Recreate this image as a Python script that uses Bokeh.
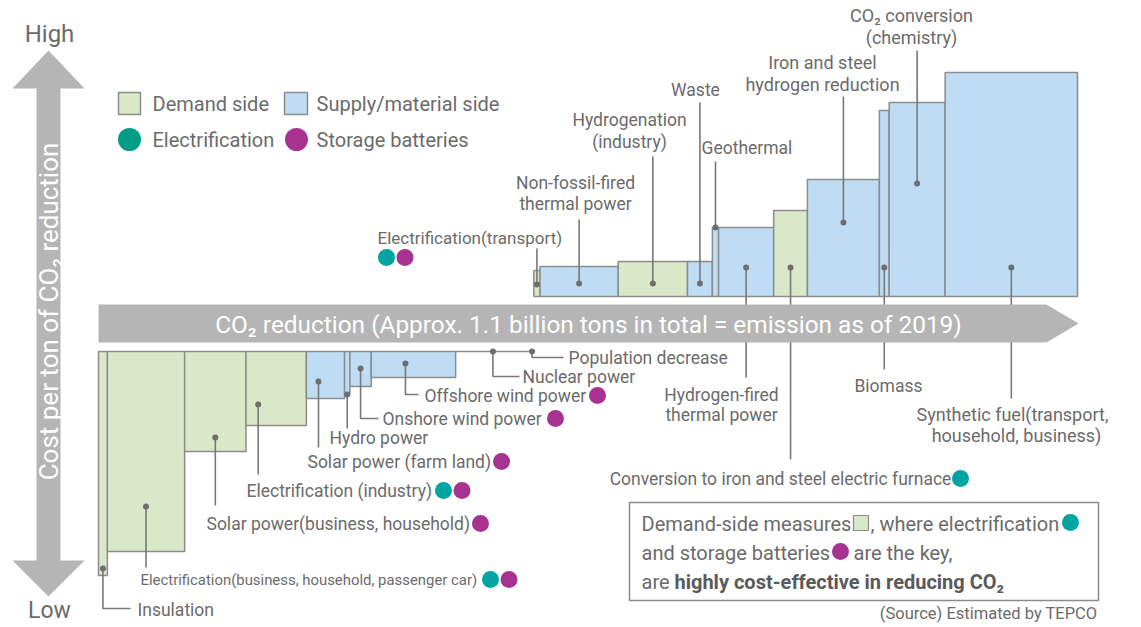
from math import pi
import numpy as np
from bokeh.plotting import figure
from bokeh.models import Range1d
from bokeh.core.properties import value
from bokeh.embed import file_html
from bokeh.resources import INLINE

# ---------------- data ----------------
# measures below the arrow (cost-negative), left to right
low_names = ["Insulation",
             "Electrification (business, household, passenger car)",
             "Solar power (business, household)",
             "Electrification (industry)",
             "Solar power (farm land)",
             "Hydro power",
             "Onshore wind power",
             "Offshore wind power",
             "Nuclear power",
             "Population decrease"]
low_reduction = [10, 87, 69, 68, 43, 6, 24, 95, 84, 4]          # Mt-CO2 (estimated)
low_cost = [-112, -100, -50, -37, -23.5, -21, -17.5, -13, 0, 0]  # relative cost index
low_side = ["demand", "demand", "demand", "demand", "supply", "supply",
            "supply", "supply", "supply", "supply"]
low_elec = [0, 1, 0, 1, 0, 0, 0, 0, 0, 0]
low_batt = [0, 1, 1, 1, 1, 0, 1, 1, 0, 0]

# measures above the arrow (cost-positive), left to right
up_names = ["Electrification (transport)",
            "Non-fossil-fired thermal power",
            "Hydrogenation (industry)",
            "Waste",
            "Geothermal",
            "Hydrogen-fired thermal power",
            "Conversion to iron and steel electric furnace",
            "Iron and steel hydrogen reduction",
            "Biomass",
            "CO2 conversion (chemistry)",
            "Synthetic fuel (transport, household, business)"]
up_reduction = [7, 88, 78, 28, 7, 62, 38, 81, 11, 63, 149]
up_cost = [13, 15, 17.5, 17.5, 34.5, 34.5, 43, 58.5, 93, 97, 112]
up_side = ["demand", "supply", "demand", "supply", "supply", "supply",
           "demand", "supply", "supply", "supply", "supply"]
up_elec = [1, 0, 0, 0, 0, 0, 1, 0, 0, 0, 0]
up_batt = [1, 0, 0, 0, 0, 0, 0, 0, 0, 0, 0]

# ---------------- styles / layout ----------------
FONT = "Roboto"
TEXT = "#6b6b6b"
GREEN = "#d9e8c7"
BLUE = "#bedcf3"
EDGE = "#8c8c8c"
TEAL = "#00a4a2"
TEAL_LEG = "#009c86"
MAG = "#a7328f"
ARROW = "#b5b5b5"
LEAD = "#787878"
LBL = "17.5px"

PAGE = 0
W, H = 1141, 627
X0_PX, X1_PX = 98, 1077
UP_BASE, LOW_BASE = 296, 351
YS = 2.0

total = sum(low_reduction) + sum(up_reduction)
XS = (X1_PX - X0_PX) / total


def X(px):
    return (px - X0_PX) / XS


def Y(py):
    return (UP_BASE - py) / YS


p = figure(width=W, height=H, output_backend="svg", toolbar_location=None,
           x_range=Range1d(X(PAGE), X(PAGE + W)),
           y_range=Range1d(Y(PAGE + H), Y(PAGE)),
           x_axis_location=None, y_axis_location=None, min_border=0)
p.extra_y_ranges = {"lower": Range1d((LOW_BASE - PAGE - H) / YS, (LOW_BASE - PAGE) / YS)}
p.grid.visible = False
p.outline_line_color = None
p.background_fill_color = "white"
p.border_fill_color = "white"


def txt(s, px, py, size=LBL, align="left", color=TEXT, style="normal", angle=0.0):
    p.text(x=[X(px)], y=[Y(py)], text=[s], text_font=value(FONT), text_font_size=size,
           text_align=align, text_baseline="middle", text_color=color,
           text_font_style=style, angle=angle)


def dot(px, py, color, d):
    p.scatter(x=[X(px)], y=[Y(py)], marker="circle", size=d, fill_color=color,
              line_color=None)


# ---------------- bars ----------------
low_red = np.array(low_reduction, dtype=float)
low_left = np.concatenate([[0.0], np.cumsum(low_red)[:-1]])
low_right = low_left + low_red
up_red = np.array(up_reduction, dtype=float)
up_left = low_right[-1] + np.concatenate([[0.0], np.cumsum(up_red)[:-1]])
up_right = up_left + up_red

col = {"demand": GREEN, "supply": BLUE}

bar_idx = [i for i, c in enumerate(low_cost) if c != 0]
zero_idx = [i for i, c in enumerate(low_cost) if c == 0]
p.quad(left=[low_left[i] for i in bar_idx], right=[low_right[i] for i in bar_idx],
       top=[0] * len(bar_idx), bottom=[low_cost[i] for i in bar_idx],
       fill_color=[col[low_side[i]] for i in bar_idx], line_color=EDGE, line_width=1.5,
       y_range_name="lower")
p.segment(x0=[low_left[i] for i in zero_idx], x1=[low_right[i] for i in zero_idx],
          y0=[0] * len(zero_idx), y1=[0] * len(zero_idx), line_color=EDGE,
          line_width=1.5, y_range_name="lower")
p.quad(left=up_left, right=up_right, bottom=[0] * len(up_cost), top=up_cost,
       fill_color=[col[s] for s in up_side], line_color=EDGE, line_width=1.5)

# ---------------- labels (layout in page pixels) ----------------
LOW_LAYOUT = [
    dict(dot=568, to=608, hx=130, lines=[("Insulation", 137, 609, "left")]),
    dict(dot=506, to=567, size="14.9px",
         lines=[("Electrification(business, household, passenger car)", 140, 579, "left")],
         fx=490, fy=579),
    dict(dot=437, to=505, lines=[("Solar power(business, household)", 206, 523, "left")],
         fx=480, fy=523),
    dict(dx=-18, dot=404, to=474, lines=[("Electrification (industry)", 246, 490, "left")],
         fx=443, fy=490),
    dict(dx=-7, dot=381, to=447, lines=[("Solar power (farm land)", 307, 461, "left")],
         fx=501, fy=461),
    dict(dot=394, to=428, lines=[("Hydro power", 329, 437, "left")]),
    dict(dot=368, to=418, hx=378, lines=[("Onshore wind power", 382, 418, "left")],
         fx=555, fy=418),
    dict(dx=-8, dot=363, to=394, hx=418, lines=[("Offshore wind power", 424, 395, "left")],
         fx=597, fy=395),
    dict(dot=351, to=376, hx=519, lines=[("Nuclear power", 522, 376, "left")]),
    dict(dot=351, to=357, hx=563, lines=[("Population decrease", 568, 357, "left")]),
]
UP_LAYOUT = [
    dict(dot=284, to=248, size="17px", lines=[("Electrification(transport)", 377, 237, "left")],
         fx=386, fy=257),
    dict(dot=283, to=219, lines=[("Non-fossil-fired", 575, 182, "center"),
                                 ("thermal power", 575, 203, "center")]),
    dict(dot=283, to=156, lines=[("Hydrogenation", 629, 119, "center"),
                                 ("(industry)", 629, 141, "center")]),
    dict(dot=283, to=102, lines=[("Waste", 695, 89, "center")]),
    dict(dot=227, to=161, lines=[("Geothermal", 701, 147, "left")]),
    dict(dot=267, to=377, lines=[("Hydrogen-fired", 721, 394, "center"),
                                 ("thermal power", 721, 414, "center")]),
    dict(dot=267, to=459, lines=[("Conversion to iron and steel electric furnace", 780, 478, "center")],
         fx=960, fy=478),
    dict(dot=222, to=96, size="18px", lines=[("Iron and steel", 822, 62, "center"),
                                             ("hydrogen reduction", 822, 84, "center")]),
    dict(dot=267, to=369, lines=[("Biomass", 888, 385, "center")]),
    dict(dot=183, to=50, size="18px", lines=[("CO\u2082 conversion", 911, 15, "center"),
                                             ("(chemistry)", 911, 37, "center")]),
    dict(dot=267, to=398, size="18px", lines=[("Synthetic fuel(transport,", 1012, 414, "center"),
                                              ("household, business)", 1016, 435, "center")]),
]

lead_xs, lead_ys, dot_xs, dot_ys = [], [], [], []
flags = []


def place(cx, lay, elec, batt):
    ax = X0_PX + cx * XS + lay.get("dx", 0)
    pts = [(ax, lay["dot"]), (ax, lay["to"])]
    if lay.get("hx"):
        pts.append((lay["hx"], lay["to"]))
    lead_xs.append([X(a) for a, b in pts])
    lead_ys.append([Y(b) for a, b in pts])
    dot_xs.append(X(ax))
    dot_ys.append(Y(lay["dot"]))
    for s, px, py, al in lay["lines"]:
        txt(s, px, py, size=lay.get("size", LBL), align=al)
    k = 0
    for on, c in ((elec, TEAL), (batt, MAG)):
        if on:
            flags.append((lay["fx"] + k * 18.5, lay["fy"], c))
            k += 1


for i in range(len(low_names)):
    place((low_left[i] + low_right[i]) / 2, LOW_LAYOUT[i], low_elec[i], low_batt[i])
for i in range(len(up_names)):
    place((up_left[i] + up_right[i]) / 2, UP_LAYOUT[i], up_elec[i], up_batt[i])

p.multi_line(xs=lead_xs, ys=lead_ys, line_color=LEAD, line_width=1.6)
p.scatter(x=dot_xs, y=dot_ys, marker="circle", size=6, fill_color="#6e6e6e", line_color=None)
for fx, fy, c in flags:
    dot(fx, fy, c, 17)

# ---------------- arrows ----------------
harrow = [(98, 304), (1046, 304), (1078, 323), (1046, 342), (98, 342)]
p.patch(x=[X(a) for a, b in harrow], y=[Y(b) for a, b in harrow], fill_color=ARROW,
        line_color=None)
txt("CO\u2082 reduction (Approx. 1.1 billion tons in total = emission as of 2019)",
    588, 324, size="24.4px", align="center", color="white")

varrow = [(48, 50), (12, 88), (36, 88), (36, 560), (12, 560), (48, 596), (84, 560),
          (60, 560), (60, 88), (84, 88)]
p.patch(x=[X(a) for a, b in varrow], y=[Y(b) for a, b in varrow], fill_color=ARROW,
        line_color=None)
txt("Cost per ton of CO\u2082 reduction", 48, 311, size="26px", align="center",
    color="white", angle=pi / 2)
txt("High", 49, 33, size="24px", align="center")
txt("Low", 49, 610, size="23px", align="center")

# ---------------- legend ----------------
p.quad(left=[X(118), X(284)], right=[X(140), X(307)], top=[Y(92), Y(92)],
       bottom=[Y(114), Y(114)], fill_color=[GREEN, BLUE], line_color=EDGE, line_width=1.5)
txt("Demand side", 152, 103, size="20px")
txt("Supply/material side", 316, 103, size="20px")
dot(129, 139, TEAL_LEG, 23)
dot(296, 139, MAG, 23)
txt("Electrification", 152, 139, size="20px")
txt("Storage batteries", 316, 139, size="20px")

# ---------------- note box ----------------
p.quad(left=[X(629)], right=[X(1098)], top=[Y(502)], bottom=[Y(600)], fill_color=None,
       line_color=EDGE, line_width=1.5)
txt("Demand-side measures", 641, 523, size="20px")
p.quad(left=[X(853)], right=[X(868)], top=[Y(515)], bottom=[Y(530)], fill_color=GREEN,
       line_color=EDGE, line_width=1.2)
txt(", where electrification", 870, 523, size="20px")
dot(1070, 522, TEAL, 17)
txt("and storage batteries", 641, 552, size="20px")
dot(840, 551, MAG, 17)
txt("are the key,", 853, 552, size="20px")
txt("are", 641, 581, size="20px")
txt("highly cost-effective in reducing CO\u2082", 674, 581, size="20px", style="bold",
    color="#5a5a5a")
txt("(Source) Estimated by TEPCO", 1097, 613, size="16.5px", align="right")

open("out.html", "w").write(file_html(p, INLINE))
